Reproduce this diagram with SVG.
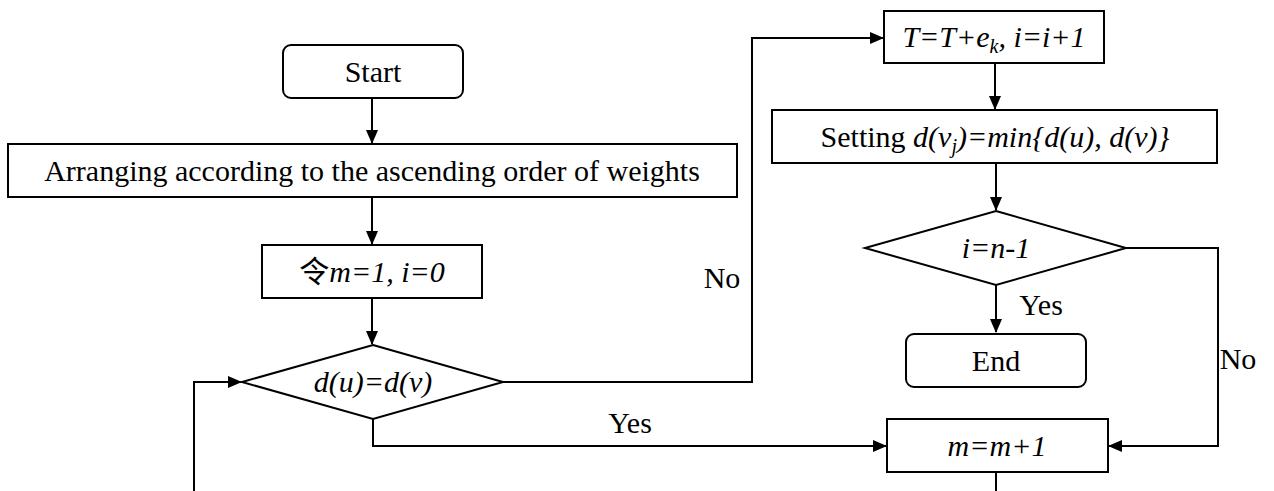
<svg xmlns="http://www.w3.org/2000/svg" width="1274" height="491" viewBox="0 0 1274 491" font-family="Liberation Serif">
<style>
.box{fill:#fff;stroke:#000;stroke-width:2}
.ln{fill:none;stroke:#000;stroke-width:2}
</style>
<defs>
<marker id="ah" markerUnits="userSpaceOnUse" markerWidth="14" markerHeight="12" refX="13" refY="6" orient="auto">
<path d="M0,0 L14,6 L0,12 Z" fill="#000"/>
</marker>
</defs>
<g id="connectors">
<path class="ln" marker-end="url(#ah)" d="M372,98 V143"/>
<path class="ln" marker-end="url(#ah)" d="M372,197 V244"/>
<path class="ln" marker-end="url(#ah)" d="M372,298 V344"/>
<path class="ln" marker-end="url(#ah)" d="M503,382 H752 V38 H883"/>
<path class="ln" marker-end="url(#ah)" d="M373,419 V446 H886"/>
<path class="ln" marker-end="url(#ah)" d="M194,491 V382 H241"/>
<path class="ln" marker-end="url(#ah)" d="M995,63 V109"/>
<path class="ln" marker-end="url(#ah)" d="M996,163 V210"/>
<path class="ln" marker-end="url(#ah)" d="M996,285 V332"/>
<path class="ln" marker-end="url(#ah)" d="M1126,248 H1218 V446 H1109"/>
<path class="ln" d="M996,472 V491"/>
<text font-family="Liberation Serif" font-size="30" text-anchor="middle" x="722" y="288">No</text>
<text font-family="Liberation Serif" font-size="30" text-anchor="middle" x="630" y="433">Yes</text>
<text font-family="Liberation Serif" font-size="30" text-anchor="middle" x="1041" y="315">Yes</text>
<text font-family="Liberation Serif" font-size="30" text-anchor="middle" x="1238" y="369">No</text>
</g>
<g id="start">
<rect class="box" x="283" y="45" width="180" height="53" rx="8"/>
<text font-family="Liberation Serif" font-size="30" text-anchor="middle" x="373" y="82">Start</text>
</g>
<g id="arrange">
<rect class="box" x="8" y="144" width="729" height="53"/>
<text font-family="Liberation Serif" font-size="30" text-anchor="middle" x="372" y="181">Arranging according to the ascending order of weights</text>
</g>
<g id="init">
<rect class="box" x="262" y="245" width="220" height="53"/>
<text font-family="Liberation Serif" font-size="30" text-anchor="middle" x="372" y="282"><tspan font-family="Noto Sans CJK SC">令</tspan><tspan font-style="italic">m=1, i=0</tspan></text>
</g>
<g id="cond1">
<polygon class="box" points="373,345 503,382 373,419 242,382"/>
<text font-family="Liberation Serif" font-size="30" font-style="italic" text-anchor="middle" x="373" y="392">d(u)=d(v)</text>
</g>
<g id="update">
<rect class="box" x="884" y="11" width="220" height="52"/>
<text font-family="Liberation Serif" font-size="30" font-style="italic" text-anchor="middle" x="994" y="47">T=T+e<tspan font-size="20" dy="6">k</tspan><tspan dy="-6">, i=i+1</tspan></text>
</g>
<g id="setting">
<rect class="box" x="772" y="110" width="445" height="53"/>
<text font-family="Liberation Serif" font-size="30" text-anchor="middle" x="995" y="147">Setting  <tspan font-style="italic">d(v<tspan font-size="20" dy="6">j</tspan><tspan dy="-6">)=min{d(u),  d(v)}</tspan></tspan></text>
</g>
<g id="cond2">
<polygon class="box" points="996,211 1126,248 996,285 865,248"/>
<text font-family="Liberation Serif" font-size="30" font-style="italic" text-anchor="middle" x="996" y="258">i=n-1</text>
</g>
<g id="end">
<rect class="box" x="906" y="334" width="180" height="53" rx="8"/>
<text font-family="Liberation Serif" font-size="30" text-anchor="middle" x="996" y="371">End</text>
</g>
<g id="inc">
<rect class="box" x="887" y="419" width="221" height="53"/>
<text font-family="Liberation Serif" font-size="30" font-style="italic" text-anchor="middle" x="997" y="456">m=m+1</text>
</g>
</svg>
